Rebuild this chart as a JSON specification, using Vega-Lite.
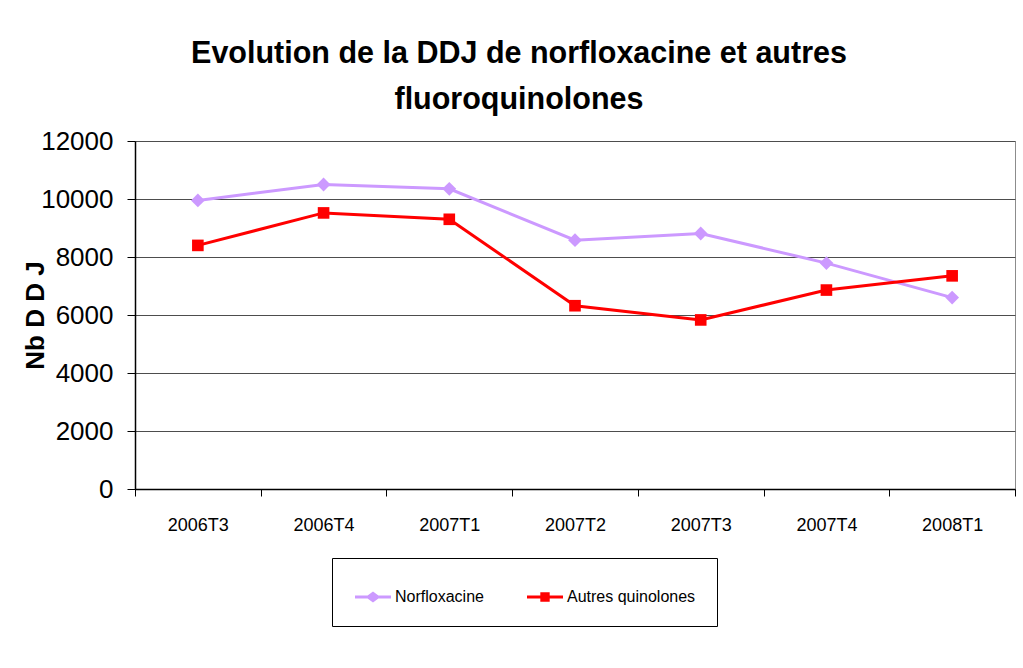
{
  "$schema": "https://vega.github.io/schema/vega-lite/v6.json",
  "width": 880,
  "height": 348,
  "autosize": {"type": "none"},
  "padding": {"left": 135, "top": 141, "right": 8, "bottom": 179},
  "background": "white",
  "title": {
    "text": ["Evolution de la DDJ de norfloxacine et autres", "fluoroquinolones"],
    "font": "Liberation Sans",
    "fontSize": 30.5,
    "fontWeight": "bold",
    "color": "#000000",
    "lineHeight": 46,
    "anchor": "middle",
    "dx": -56,
    "offset": 13
  },
  "config": {
    "view": {"stroke": "#8c8c8c", "strokeWidth": 1},
    "font": "Liberation Sans"
  },
  "data": {
    "values": [
      {"periode": "2006T3", "serie": "Norfloxacine", "valeur": 9950},
      {"periode": "2006T4", "serie": "Norfloxacine", "valeur": 10500},
      {"periode": "2007T1", "serie": "Norfloxacine", "valeur": 10350},
      {"periode": "2007T2", "serie": "Norfloxacine", "valeur": 8580},
      {"periode": "2007T3", "serie": "Norfloxacine", "valeur": 8810},
      {"periode": "2007T4", "serie": "Norfloxacine", "valeur": 7790},
      {"periode": "2008T1", "serie": "Norfloxacine", "valeur": 6600},
      {"periode": "2006T3", "serie": "Autres quinolones", "valeur": 8400},
      {"periode": "2006T4", "serie": "Autres quinolones", "valeur": 9520},
      {"periode": "2007T1", "serie": "Autres quinolones", "valeur": 9300},
      {"periode": "2007T2", "serie": "Autres quinolones", "valeur": 6320},
      {"periode": "2007T3", "serie": "Autres quinolones", "valeur": 5830},
      {"periode": "2007T4", "serie": "Autres quinolones", "valeur": 6860},
      {"periode": "2008T1", "serie": "Autres quinolones", "valeur": 7350}
    ]
  },
  "encoding": {
    "x": {
      "field": "periode",
      "type": "ordinal",
      "sort": ["2006T3", "2006T4", "2007T1", "2007T2", "2007T3", "2007T4", "2008T1"],
      "scale": {"type": "band", "paddingInner": 0, "paddingOuter": 0},
      "axis": {
        "title": null,
        "labelAngle": 0,
        "labelFont": "Liberation Sans",
        "labelFontSize": 18,
        "labelColor": "#000000",
        "labelPadding": 20,
        "domainColor": "#000000",
        "domainWidth": 1.5,
        "tickColor": "#000000",
        "tickSize": 7,
        "tickBand": "extent",
        "grid": false
      }
    },
    "y": {
      "field": "valeur",
      "type": "quantitative",
      "scale": {"domain": [0, 12000], "nice": false},
      "axis": {
        "title": "Nb D D J",
        "titleFont": "Liberation Sans",
        "titleFontSize": 26,
        "titleFontWeight": "bold",
        "titleColor": "#000000",
        "titleAngle": -90,
        "titleX": -100,
        "titleY": 174,
        "titleAlign": "center",
        "titleBaseline": "middle",
        "values": [0, 2000, 4000, 6000, 8000, 10000, 12000],
        "format": "d",
        "labelFont": "Liberation Sans",
        "labelFontSize": 26,
        "labelColor": "#000000",
        "labelPadding": 14,
        "domainColor": "#000000",
        "domainWidth": 1.5,
        "tickColor": "#000000",
        "tickSize": 8,
        "grid": true,
        "gridColor": "#4d4d4d",
        "gridWidth": 1
      }
    },
    "color": {
      "field": "serie",
      "type": "nominal",
      "scale": {"domain": ["Norfloxacine", "Autres quinolones"], "range": ["#cc99ff", "#ff0000"]},
      "legend": {
        "title": null,
        "orient": "none",
        "direction": "horizontal",
        "legendX": 197,
        "legendY": 417,
        "strokeColor": "#000000",
        "fillColor": "#ffffff",
        "padding": 21,
        "columnPadding": 41,
        "labelFont": "Liberation Sans",
        "labelFontSize": 16,
        "labelColor": "#000000",
        "labelOffset": 4,
        "symbolOffset": 2,
        "symbolSize": 1296,
        "symbolStrokeWidth": 0,
        "encode": {
          "symbols": {
            "update": {
              "shape": {"signal": "datum.value === 'Norfloxacine' ? 'M-1,-0.08H-0.3L0,-0.3L0.3,-0.08H1V0.08H0.3L0,0.3L-0.3,0.08H-1Z' : 'M-1,-0.08H-0.26V-0.26H0.26V-0.08H1V0.08H0.26V0.26H-0.26V0.08H-1Z'"},
              "fill": {"signal": "datum.value === 'Norfloxacine' ? '#cc99ff' : '#ff0000'"}
            }
          }
        }
      }
    }
  },
  "layer": [
    {
      "mark": {"type": "line", "strokeWidth": 3}
    },
    {
      "mark": {"type": "point", "filled": true, "opacity": 1},
      "encoding": {
        "shape": {
          "condition": {"test": "datum.serie === 'Norfloxacine'", "value": "diamond"},
          "value": "square"
        },
        "size": {
          "condition": {"test": "datum.serie === 'Norfloxacine'", "value": 190},
          "value": 135
        }
      }
    }
  ]
}
